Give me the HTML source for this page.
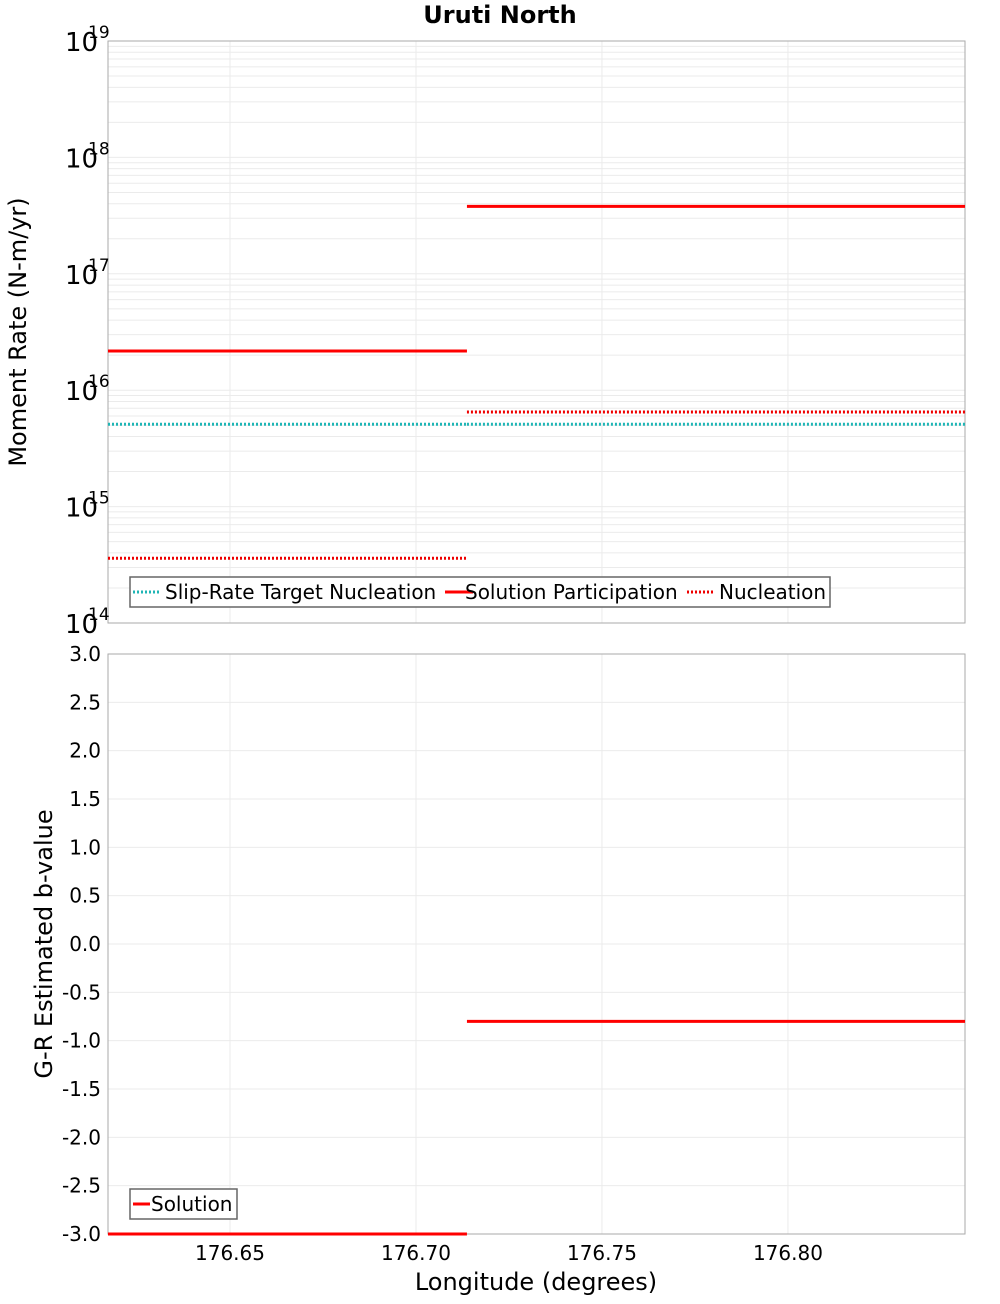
<!DOCTYPE html>
<html><head><meta charset="utf-8"><style>
body{margin:0;background:#fff;font-family:"DejaVu Sans","Liberation Sans",sans-serif}
svg text{font-family:"DejaVu Sans","Liberation Sans",sans-serif}
</style></head><body>
<svg id="c" width="1000" height="1300" xmlns="http://www.w3.org/2000/svg">
<text x="500" y="23" text-anchor="middle" font-size="24" font-weight="bold">Uruti North</text>
<text transform="translate(26,332) rotate(-90)" text-anchor="middle" font-size="24">Moment Rate (N-m/yr)</text>
<text transform="translate(52,944) rotate(-90)" text-anchor="middle" font-size="24">G-R Estimated b-value</text>
<text x="536" y="1290" text-anchor="middle" font-size="24">Longitude (degrees)</text>
</svg>
<script>
const xTicks=[176.65,176.70,176.75,176.80];
const segStart=[176.6172,176.7137];
const segEnd=[176.7137,176.8476];
const targetNucleation=[5.1e15,5.1e15];
const solutionParticipation=[2.17e16,3.8e17];
const nucleation=[3.6e14,6.5e15];
const bValue=[-3.0,-0.8];
const logTicks=[14,15,16,17,18,19];
const bTicks=[3.0,2.5,2.0,1.5,1.0,0.5,0.0,-0.5,-1.0,-1.5,-2.0,-2.5,-3.0];

const svg=document.getElementById('c');const NS='http://www.w3.org/2000/svg';
function mk(t,a,p){const e=document.createElementNS(NS,t);for(const k in a)e.setAttribute(k,a[k]);(p||svg).appendChild(e);return e;}
const L=108,R=965,X0=176.6172,X1=176.8476;
const X=v=>L+(v-X0)/(X1-X0)*(R-L);
const T0=41,T1=623,B0=654,B1=1234;
const YT=v=>T1-(Math.log10(v)-14)/5*(T1-T0);
const YB=v=>B0+(3-v)/6*(B1-B0);
for(let d=14;d<19;d++)for(let m=1;m<10;m++){const y=YT(m*Math.pow(10,d));
 const g=mk('line',{x1:L,x2:R,y1:y,y2:y,stroke:'#ebebeb','stroke-width':1});
 
 }
for(const v of bTicks){const y=YB(v);const g=mk('line',{x1:L,x2:R,y1:y,y2:y,stroke:'#ebebeb'});
 
 }
for(const v of xTicks){const x=X(v);
 const g1=mk('line',{x1:x,x2:x,y1:T0,y2:T1,stroke:'#ebebeb'});
 
 
 const g2=mk('line',{x1:x,x2:x,y1:B0,y2:B1,stroke:'#ebebeb'});
 
 
 const t=mk('text',{x:x,y:1260,'text-anchor':'middle','font-size':20});t.textContent=v.toFixed(2);
 
 }
const f1=mk('rect',{x:L,y:T0,width:R-L,height:T1-T0,fill:'none',stroke:'#aaa'});


const f2=mk('rect',{x:L,y:B0,width:R-L,height:B1-B0,fill:'none',stroke:'#aaa'});


for(const d of logTicks){const y=YT(Math.pow(10,d));
 const t=mk('text',{x:65,y:y+10,'font-size':26});t.textContent='10';
 
 
 const s=mk('text',{x:88,y:y-3,'font-size':17});s.textContent=String(d);
 
 }
for(const v of bTicks){const t=mk('text',{x:101,y:YB(v)+7,'text-anchor':'end','font-size':20});t.textContent=v.toFixed(1);
 
 }
function series(vals,Y,color,dash,name){for(let i=0;i<vals.length;i++){const y=Y(vals[i]);
 const a={x1:X(segStart[i]),x2:X(segEnd[i]),y1:y,y2:y,stroke:color,'stroke-width':3};if(dash)a['stroke-dasharray']='2,2';
 const l=mk('line',a);
 }}
series(targetNucleation,YT,'#1fb5b5',true,'target-nucleation-line');
series(solutionParticipation,YT,'#f00',false,'solution-participation-line');
series(nucleation,YT,'#e00',true,'nucleation-line');
series(bValue,YB,'#f00',false,'b-value-line');
const lg=mk('g',{});
mk('rect',{x:130,y:577,width:700,height:30,fill:'#fff',stroke:'#666','stroke-width':1.5},lg);
[[133,'#1fb5b5',true,'Slip-Rate Target Nucleation',165],[445,'#f00',false,'Solution Participation',465],[687,'#e00',true,'Nucleation',719]].forEach(e=>{
 const a={x1:e[0],x2:e[0]+28,y1:592,y2:592,stroke:e[1],'stroke-width':3};if(e[2])a['stroke-dasharray']='2,2';
 mk('line',a,lg);const t=mk('text',{x:e[4],y:599,'font-size':20},lg);t.textContent=e[3];});
const lg2=mk('g',{});
mk('rect',{x:130,y:1189,width:107,height:30,fill:'#fff',stroke:'#666','stroke-width':1.5},lg2);
mk('line',{x1:133,x2:150,y1:1204,y2:1204,stroke:'#f00','stroke-width':3},lg2);
const t2=mk('text',{x:151,y:1211,'font-size':20},lg2);t2.textContent='Solution';
</script>
</body></html>
